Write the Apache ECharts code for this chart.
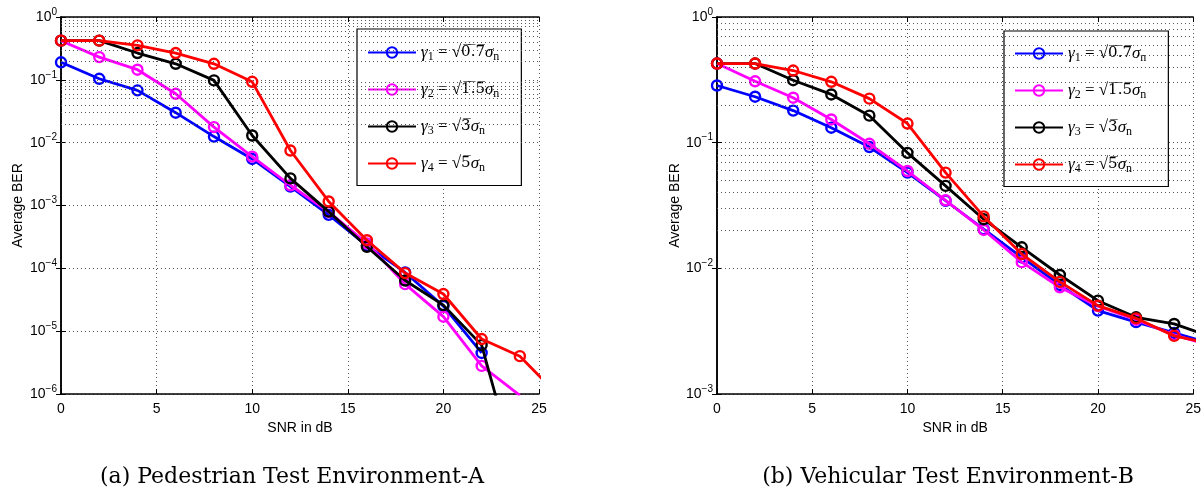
<!DOCTYPE html>
<html><head><meta charset="utf-8">
<script src="https://cdn.jsdelivr.net/npm/echarts@6/dist/echarts.min.js"></script>
<style>html,body{margin:0;padding:0;background:#fff}#c{width:1204px;height:494px}</style>
</head><body><div id="c"></div>
<script>
// ---- data ----
const snr = [0, 2, 4, 6, 8, 10, 12, 14, 16, 18, 20, 22, 24, 26];
// (a) Pedestrian Test Environment-A
const pedG1 = [0.19, 0.104, 0.068, 0.030, 0.0125, 0.0055, 0.0020, 7.1e-4, 2.3e-4, 8.6e-5, 2.5e-5, 4.5e-6, null, null];
const pedG2 = [0.42, 0.23, 0.145, 0.060, 0.0177, 0.0060, 0.0021, 7.9e-4, 2.5e-4, 5.6e-5, 1.7e-5, 2.8e-6, 9.5e-7, null];
const pedG3 = [0.42, 0.42, 0.267, 0.18, 0.098, 0.013, 0.0027, 8.0e-4, 2.2e-4, 6.4e-5, 2.6e-5, 6.0e-6, 3.8e-8, null];
const pedG4 = [0.42, 0.42, 0.353, 0.267, 0.18, 0.093, 0.0075, 1.16e-3, 2.8e-4, 8.4e-5, 3.9e-5, 7.5e-6, 4.0e-6, 9.6e-7];
// (b) Vehicular Test Environment-B
const vehG1 = [0.285, 0.232, 0.18, 0.1315, 0.0923, 0.0578, 0.0345, 0.0205, 0.0122, 0.00737, 0.00461, 0.00373, 0.00306, 0.0025];
const vehG2 = [0.426, 0.308, 0.228, 0.153, 0.098, 0.0595, 0.0348, 0.0202, 0.0112, 0.00707, 0.0050, 0.0039, 0.00295, 0.0024];
const vehG3 = [0.426, 0.426, 0.314, 0.242, 0.164, 0.083, 0.0453, 0.0246, 0.0147, 0.00885, 0.00553, 0.00408, 0.00361, 0.00283];
const vehG4 = [0.426, 0.426, 0.375, 0.305, 0.224, 0.142, 0.0578, 0.0259, 0.013, 0.0078, 0.00505, 0.0040, 0.0029, 0.0025];

const seriesNames = ['g1', 'g2', 'g3', 'g4'];
const legendLabels = {
  g1: '{g|γ}{s|1}{t| = √}{o|0̅.̅7̅}{g|σ}{s|n}',
  g2: '{g|γ}{s|2}{t| = √}{o|1̅.̅5̅}{g|σ}{s|n}',
  g3: '{g|γ}{s|3}{t| = √}{o|3̅}{g|σ}{s|n}',
  g4: '{g|γ}{s|4}{t| = √}{o|5̅}{g|σ}{s|n}'
};
const colors = ['#0000ff', '#ff00ff', '#000000', '#ff0000'];
const pedDecades = [-6, -5, -4, -3, -2, -1];
const vehDecades = [-3, -2, -1];
const xTitle = 'SNR in dB';
const yTitle = 'Average BER';
const captions = ['(a) Pedestrian Test Environment-A', '(b) Vehicular Test Environment-B'];

// ---- chart ----
const SANS = 'Liberation Sans';
const SERIF = 'Liberation Serif';
function minorVals(decs) {
  const out = [];
  decs.forEach(k => { for (let m = 2; m <= 9; m++) out.push({ yAxis: m * Math.pow(10, k) }); });
  return out;
}
const gridLine = { type: [1, 3], color: '#555', width: 1 };
const grids = [
  { left: 61, top: 17, width: 478, height: 377 },
  { left: 717, top: 17, width: 479, height: 377 }
];
function yLabelFmt(v) {
  const e = Math.round(Math.log10(v));
  return '{b|10}{s|' + (e < 0 ? '−' + (-e) : String(e)) + '}';
}
const xAxes = [], yAxes = [];
[0, 1].forEach(i => {
  xAxes.push({
    type: 'value', gridIndex: i, min: 0, max: 25, interval: 5,
    name: xTitle, nameLocation: 'middle', nameGap: 21,
    nameTextStyle: { fontFamily: SANS, fontSize: 14, color: '#000' },
    axisLine: { lineStyle: { color: '#000', width: 1.5 } },
    axisTick: { inside: true, length: 5, lineStyle: { color: '#000' } },
    axisLabel: { fontFamily: SANS, fontSize: 14, color: '#000', margin: 8 },
    splitLine: { show: true, lineStyle: gridLine }
  });
  xAxes.push({
    type: 'value', gridIndex: i, min: 0, max: 25, interval: 5, position: 'top',
    axisLine: { lineStyle: { color: '#000', width: 1.5 } },
    axisTick: { inside: true, length: 5, lineStyle: { color: '#000' } },
    axisLabel: { show: false }, splitLine: { show: false }
  });
  yAxes.push({
    type: 'log', logBase: 10, gridIndex: i, min: i === 0 ? 1e-6 : 1e-3, max: 1,
    name: yTitle, nameLocation: 'middle', nameGap: i === 0 ? 36 : 33, nameRotate: 90,
    nameTextStyle: { fontFamily: SANS, fontSize: 14, color: '#000' },
    axisLine: { lineStyle: { color: '#000', width: 1.5 } },
    axisTick: { inside: true, length: 5, lineStyle: { color: '#000' } },
    axisLabel: {
      margin: 4, formatter: yLabelFmt,
      rich: {
        b: { fontFamily: SANS, fontSize: 14, color: '#000', lineHeight: 20, verticalAlign: 'middle' },
        s: { fontFamily: SANS, fontSize: 10, color: '#000', lineHeight: 8, verticalAlign: 'top' }
      }
    },
    splitLine: { show: true, lineStyle: gridLine }
  });
  yAxes.push({
    type: 'log', logBase: 10, gridIndex: i, min: i === 0 ? 1e-6 : 1e-3, max: 1, position: 'right',
    axisLine: { lineStyle: { color: '#000', width: 1.5 } },
    axisTick: { inside: true, length: 5, lineStyle: { color: '#000' } },
    axisLabel: { show: false }, splitLine: { show: false }
  });
});

function mkSeries(name, data, ci, gi) {
  return {
    name, type: 'line', xAxisIndex: gi * 2, yAxisIndex: gi * 2,
    data: snr.map((x, k) => [x, data[k]]),
    symbol: 'circle', symbolSize: 10, clip: true,
    lineStyle: { color: colors[ci], width: 2.8 },
    itemStyle: { color: 'rgba(255,255,255,0)', borderColor: colors[ci], borderWidth: 2.4 },
    emphasis: { disabled: true }, z: 3 + ci
  };
}
const series = [];
[0, 1].forEach(gi => {
  series.push({
    name: '_grid' + gi, type: 'line', xAxisIndex: gi * 2, yAxisIndex: gi * 2, data: [], z: 1,
    markLine: { silent: true, symbol: ['none', 'none'], label: { show: false },
      lineStyle: gridLine, data: minorVals(gi === 0 ? pedDecades : vehDecades) }
  });
});
[pedG1, pedG2, pedG3, pedG4].forEach((d, i) => series.push(mkSeries(seriesNames[i], d, i, 0)));
[vehG1, vehG2, vehG3, vehG4].forEach((d, i) => series.push(mkSeries(seriesNames[i], d, i, 1)));

const legendRich = {
  g: { fontFamily: SERIF, fontStyle: 'italic', fontSize: 17, color: '#000', lineHeight: 20, verticalAlign: 'middle' },
  t: { fontFamily: SERIF, fontSize: 17, color: '#000', lineHeight: 20, verticalAlign: 'middle' },
  o: { fontFamily: 'DejaVu Serif', fontSize: 15, color: '#000', lineHeight: 20, verticalAlign: 'middle' },
  s: { fontFamily: SERIF, fontSize: 12, color: '#000', lineHeight: 10, verticalAlign: 'bottom' }
};
function mkLegend(left, top, gap, padTop) {
  return {
    data: seriesNames, orient: 'vertical', left, top,
    padding: [padTop, 22, 12, 10], itemGap: gap, itemWidth: 48, itemHeight: 13,
    backgroundColor: '#fff', borderColor: '#000', borderWidth: 1.2,
    selectedMode: false,
    formatter: n => legendLabels[n],
    textStyle: { rich: legendRich, padding: [0, 0, 0, 0] }
  };
}

const option = {
  animation: false,
  backgroundColor: '#fff',
  title: [
    { text: captions[0], left: 287, top: 461, textAlign: 'center',
      textStyle: { fontFamily: 'DejaVu Serif', fontWeight: 'normal', fontSize: 22, color: '#000' } },
    { text: captions[1], left: 943, top: 461, textAlign: 'center',
      textStyle: { fontFamily: 'DejaVu Serif', fontWeight: 'normal', fontSize: 22, color: '#000' } }
  ],
  grid: grids,
  xAxis: xAxes,
  yAxis: yAxes,
  legend: [mkLegend(357, 29, 18.5, 15), mkLegend(1004, 31, 18.5, 14)],
  series
};
const chart = echarts.init(document.getElementById('c'), null, { renderer: 'canvas' });
chart.setOption(option);
</script></body></html>
